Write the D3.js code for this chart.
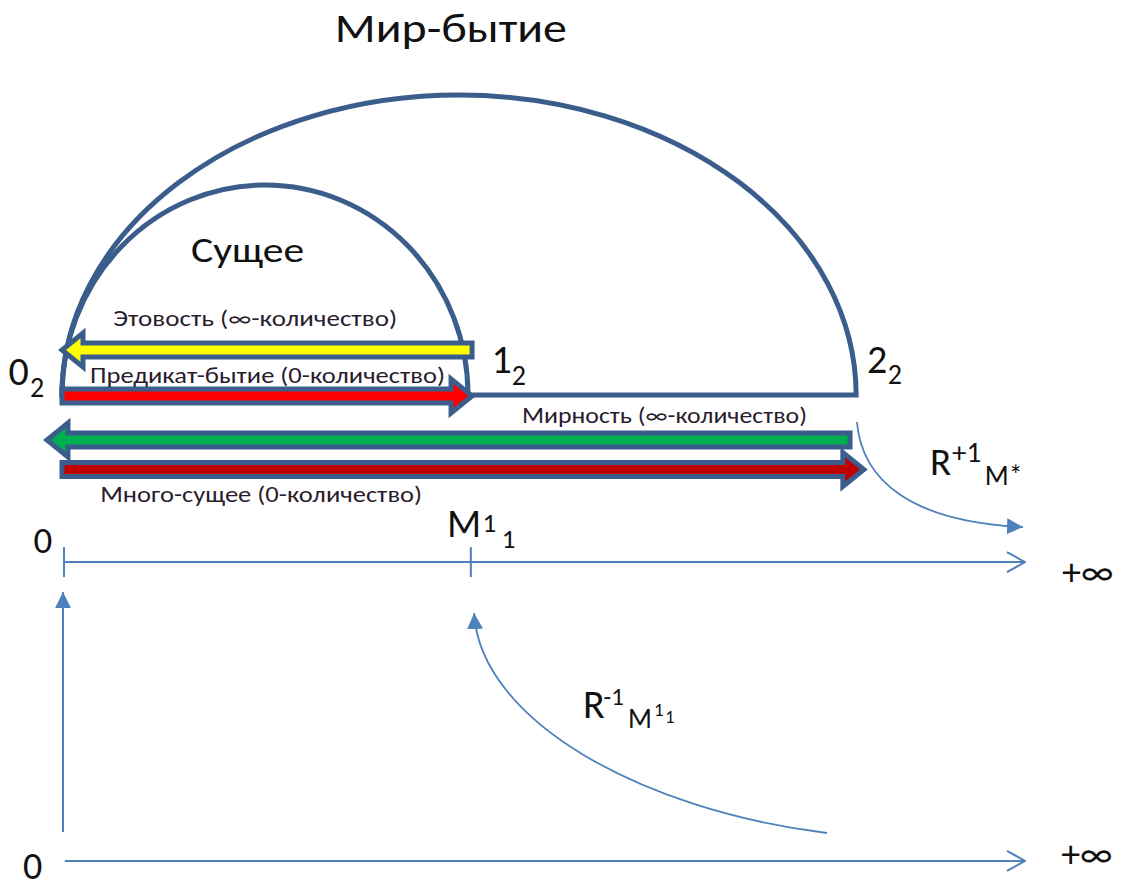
<!DOCTYPE html>
<html>
<head>
<meta charset="utf-8">
<script src="https://cdn.jsdelivr.net/npm/d3@7"></script>
<style>
  body { margin: 0; background: #fff; }
  text { font-family: Calibri, Carlito, "Open Sans", sans-serif; }
</style>
</head>
<body>
<div id="chart"></div>
<script>
// units: 0_2 -> 0, 1_2 -> 1 along x; baseline -> 0, top of "Мир-бытие" -> 1 along y

const domes = [
  { name: "mir",    x0: 0, x1: 1.956, top: 1.00 },
  { name: "sushee", x0: 0, x1: 1.0,   top: 0.70 }
]

const bandArrows = [
  { name: "etovost",  from: 1.01,  to: 0,      level: 0.15 },
  { name: "predikat", from: 0,     to: 1.01,   level: -0.003 },
  { name: "mirnost",  from: 1.941, to: -0.037, level: -0.15 },
  { name: "mnogo",    from: 0,     to: 1.975,  level: -0.248 }
]

const bandLabels = [
  { text: "Этовость (∞-количество)",       x: 0.126, y: 0.23,   len: 284 },
  { text: "Предикат-бытие (0-количество)", x: 0.069, y: 0.04,   len: 355 },
  { text: "Мирность (∞-количество)",       x: 1.133, y: -0.093, len: 285 },
  { text: "Много-сущее (0-количество)",    x: 0.094, y: -0.357, len: 322 }
]

const titles = [
  { text: "Мир-бытие", x: 0.672, y: 1.177, len: 232, size: 40 },
  { text: "Сущее",     x: 0.318, y: 0.443, len: 113, size: 34 }
]

// number lines
const axisLines = [
  { from: 0.005, to: 2.372, level: -0.557 },
  { from: 0.007, to: 2.372, level: -1.553 }
]
const tickValues = [0.005, 1.007]
const tickSpan = [-0.507, -0.607]
const riseArrow = { x: 0.0025, from: -1.457, to: -0.657 }

// curved arrows (cubic, start / c1 / c2 / tip)
const curves = [
  [[1.958, -0.09], [1.970, -0.283], [2.089, -0.423], [2.367, -0.44]],
  [[1.884, -1.46], [1.424, -1.383], [1.03, -1.083], [1.015, -0.727]]
]

// symbol labels, each made of parts: [text, x, y, size]
const symbols = [
  [["0", -0.132, 0.033, 40], ["2", -0.079, -0.007, 28]],
  [["1", 1.058, 0.073, 40],  ["2", 1.108, 0.033, 28]],
  [["2", 1.983, 0.073, 40],  ["2", 2.034, 0.037, 28]],
  [["0", -0.07, -0.527, 37]],
  [["M", 0.948, -0.473, 40], ["1", 1.036, -0.457, 27], ["1", 1.083, -0.51, 27]],
  [["+∞", 2.463, -0.633, 38]],
  [["0", -0.096, -1.613, 38]],
  [["+∞", 2.461, -1.573, 38]],
  [["R", 2.138, -0.267, 39], ["+1", 2.192, -0.223, 29], ["M*", 2.273, -0.3, 28]],
  [["R", 1.283, -1.077, 40], ["-1", 1.334, -1.033, 25], ["M", 1.394, -1.11, 28],
   ["1", 1.458, -1.07, 19], ["1", 1.486, -1.093, 18]]
]

const fills = { etovost: "#FFFF00", predikat: "#FF0000", mirnost: "#00B050", mnogo: "#C00000" }
const outline = "#3A5D8C"
const lineBlue = "#4F81BD"

let width = 1129
let height = 888

let x = d3.scaleLinear().domain([0, 1]).range([62, 468])
let y = d3.scaleLinear().domain([0, 1]).range([395, 95])

let svg = d3.select("#chart")
            .append("svg")
                .attr("width", width)
                .attr("height", height)

let defs = svg.append("defs")
defs.append("marker")
    .attr("id", "tri")
    .attr("viewBox", "0 0 16 16")
    .attr("refX", 16)
    .attr("refY", 8)
    .attr("markerWidth", 16)
    .attr("markerHeight", 16)
    .attr("markerUnits", "userSpaceOnUse")
    .attr("orient", "auto")
  .append("path")
    .attr("d", "M0,0 L16,8 L0,16 Z")
    .attr("fill", lineBlue)

defs.append("marker")
    .attr("id", "open")
    .attr("viewBox", "0 0 20 24")
    .attr("refX", 19)
    .attr("refY", 12)
    .attr("markerWidth", 20)
    .attr("markerHeight", 24)
    .attr("markerUnits", "userSpaceOnUse")
    .attr("orient", "auto")
  .append("path")
    .attr("d", "M1,2 L19,12 L1,22")
    .attr("fill", "none")
    .attr("stroke", lineBlue)
    .attr("stroke-width", 2)

// domes
svg.selectAll("path.dome")
    .data(domes)
    .enter()
    .append("path")
        .attr("class", "dome")
        .attr("d", d => {
            let rx = (x(d.x1) - x(d.x0)) / 2
            let ry = y(0) - y(d.top)
            return `M${x(d.x0)},${y(0)} A${rx},${ry} 0 0 1 ${x(d.x1)},${y(0)} Z`
        })
        .style("fill", "none")
        .style("stroke", outline)
        .style("stroke-width", 5)

// block arrows
const shaft = 7, head = 17, headLen = 21
svg.selectAll("path.band")
    .data(bandArrows)
    .enter()
    .append("path")
        .attr("class", "band")
        .attr("d", d => {
            let x0 = x(d.from), x1 = x(d.to), yc = y(d.level)
            let s = x1 > x0 ? 1 : -1
            let xb = x1 - s * headLen
            return `M${x0},${yc - shaft} L${xb},${yc - shaft} L${xb},${yc - head} L${x1},${yc} ` +
                   `L${xb},${yc + head} L${xb},${yc + shaft} L${x0},${yc + shaft} Z`
        })
        .style("fill", d => fills[d.name])
        .style("stroke", outline)
        .style("stroke-width", 5)
        .style("stroke-linejoin", "miter")

// number lines
svg.selectAll("line.axis")
    .data(axisLines)
    .enter()
    .append("line")
        .attr("class", "axis")
        .attr("x1", d => x(d.from))
        .attr("x2", d => x(d.to))
        .attr("y1", d => y(d.level))
        .attr("y2", d => y(d.level))
        .attr("marker-end", "url(#open)")
        .style("stroke", lineBlue)
        .style("stroke-width", 2)

svg.selectAll("line.tick")
    .data(tickValues)
    .enter()
    .append("line")
        .attr("class", "tick")
        .attr("x1", d => x(d))
        .attr("x2", d => x(d))
        .attr("y1", y(tickSpan[0]))
        .attr("y2", y(tickSpan[1]))
        .style("stroke", lineBlue)
        .style("stroke-width", 2)

svg.append("line")
    .attr("x1", x(riseArrow.x))
    .attr("x2", x(riseArrow.x))
    .attr("y1", y(riseArrow.from))
    .attr("y2", y(riseArrow.to))
    .attr("marker-end", "url(#tri)")
    .style("stroke", lineBlue)
    .style("stroke-width", 2)

svg.selectAll("path.curve")
    .data(curves)
    .enter()
    .append("path")
        .attr("class", "curve")
        .attr("d", d => {
            let p = d.map(q => [x(q[0]), y(q[1])])
            let c = d3.path()
            c.moveTo(p[0][0], p[0][1])
            c.bezierCurveTo(p[1][0], p[1][1], p[2][0], p[2][1], p[3][0], p[3][1])
            return c.toString()
        })
        .attr("marker-end", "url(#tri)")
        .style("fill", "none")
        .style("stroke", lineBlue)
        .style("stroke-width", 1.8)

// texts
svg.selectAll("text.title")
    .data(titles)
    .enter()
    .append("text")
        .attr("class", "title")
        .attr("x", d => x(d.x))
        .attr("y", d => y(d.y))
        .attr("textLength", d => d.len)
        .attr("lengthAdjust", "spacingAndGlyphs")
        .attr("font-size", d => d.size + "px")
        .attr("fill", "#111")
        .text(d => d.text)

svg.selectAll("text.band")
    .data(bandLabels)
    .enter()
    .append("text")
        .attr("class", "band")
        .attr("x", d => x(d.x))
        .attr("y", d => y(d.y))
        .attr("textLength", d => d.len)
        .attr("lengthAdjust", "spacingAndGlyphs")
        .attr("font-size", "22px")
        .attr("fill", "#2a1c2e")
        .text(d => d.text)

svg.selectAll("text.sym")
    .data(symbols)
    .enter()
    .append("text")
        .attr("class", "sym")
        .attr("fill", "#111")
    .selectAll("tspan")
    .data(d => d)
    .enter()
    .append("tspan")
        .attr("x", d => x(d[1]))
        .attr("y", d => y(d[2]))
        .attr("font-size", d => d[3] + "px")
        .text(d => d[0])
</script>
</body>
</html>
